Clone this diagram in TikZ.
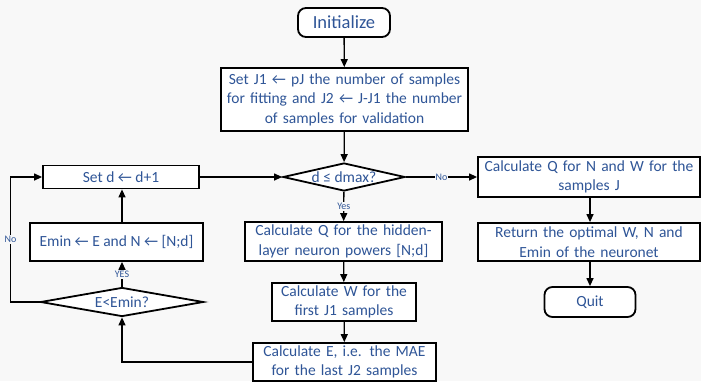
\documentclass[tikz,border=0pt]{standalone}
\usepackage{fontspec}
\setmainfont{Carlito}
\usetikzlibrary{shapes.geometric,arrows.meta}
\definecolor{txtblue}{RGB}{47,85,151}
\definecolor{pagebg}{RGB}{248,248,248}

\begin{document}
\begin{tikzpicture}[x=1pt, y=-1pt,
  every node/.style={font=\fontsize{15.5}{19.5}\selectfont, text=txtblue},
  box/.style={draw, line width=1.8pt, fill=white, inner sep=2pt, align=center},
  term/.style={box, rounded corners=8pt},
  test/.style={draw, diamond, line width=1.8pt, fill=white, inner sep=0pt},
  arr/.style={line width=1.3pt, -{Triangle[length=8pt,width=7pt]}},
  lbl/.style={fill=pagebg, inner sep=1pt, font=\fontsize{10}{12}\selectfont}]
  \fill[pagebg] (0,0) rectangle (701,381);
  \useasboundingbox (0,0) rectangle (701,381);
  % middle column
  \node[term, minimum width=92, minimum height=29, font=\fontsize{18.5}{22}\selectfont] (init) at (344,22.5) {Initialize};
  \node[box, text width=243, minimum height=63] (setj) at (344.5,99.5)
    {Set J1 ← pJ the number of samples\\for fitting and J2 ← J-J1 the number\\of samples for validation};
  \node[test, aspect=4.36, minimum width=122, minimum height=28] (dq) at (344,177) {d ≤ dmax?};
  \node[box, text width=193, minimum height=39] (calcq) at (343.5,241.5)
    {Calculate Q for the hidden-\\layer neuron powers [N;d]};
  \node[box, text width=140, minimum height=38] (calcw) at (344,302)
    {Calculate W for the\\first J1 samples};
  \node[box, text width=179, minimum height=38] (calce) at (344.5,362)
    {Calculate E, i.e. the MAE\\for the last J2 samples};
  % left loop
  \node[box, minimum width=156, minimum height=23] (setd) at (121,177) {Set d ← d+1};
  \node[box, minimum width=173, minimum height=38] (emin) at (116.5,242) {Emin ← E and N ← [N;d]};
  \node[test, aspect=5.6, minimum width=163, minimum height=29] (ed) at (122,302) {E<Emin?};
  % right column
  \node[box, text width=218, minimum height=40] (calcn) at (589,177)
    {Calculate Q for N and W for the\\samples J};
  \node[box, text width=218, minimum height=38] (ret) at (589,242)
    {Return the optimal W, N and\\Emin of the neuronet};
  \node[term, minimum width=91, minimum height=30] (quit) at (590,302) {Quit};
  % connectors
  \draw[arr] (init) -- (setj);
  \draw[arr] (setj) -- (dq);
  \draw[arr] (dq) -- (calcq) node[midway,lbl]{Yes};
  \draw[arr] (calcq) -- (calcw);
  \draw[arr] (calcw) -- (calce);
  \draw[arr] (dq) -- (calcn) node[midway,lbl]{No};
  \draw[arr] (calcn.south -| quit) -- (ret.north -| quit);
  \draw[arr] (ret.south -| quit) -- (quit);
  \draw[arr] (calce.west) -| (ed.south);
  \draw[arr] (ed.north) -- (ed.north |- emin.south) node[midway,lbl]{YES};
  \draw[arr] (ed.north |- emin.north) -- (setd.south -| ed.north);
  \draw[arr] (ed.west) -- ++(-29,0) |- (setd.west) node[pos=0.25,lbl]{No};
  \draw[arr] (setd) -- (dq);
\end{tikzpicture}
\end{document}
